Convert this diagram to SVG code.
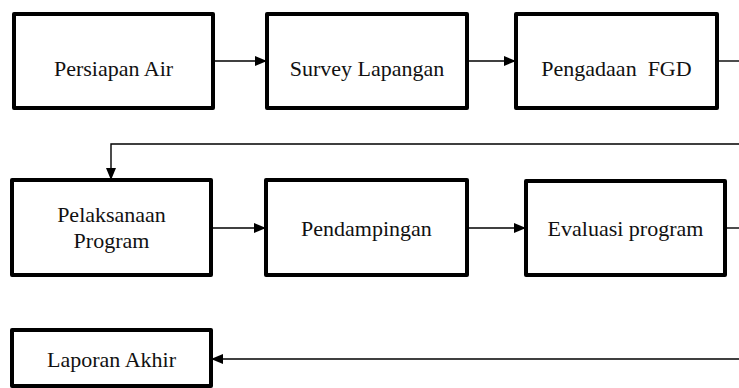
<svg xmlns="http://www.w3.org/2000/svg" width="739" height="388" viewBox="0 0 739 388">
<defs>
<marker id="ah" viewBox="0 0 12 10" refX="12" refY="5" markerWidth="12" markerHeight="10" markerUnits="userSpaceOnUse" orient="auto">
<path d="M0,0 L12,5 L0,10 Z" fill="#000"/>
</marker>
<style>
.box{fill:#fff;stroke:#000;stroke-width:4;stroke-linejoin:round}
.lbl{font-family:"Liberation Serif","Times New Roman",serif;font-size:22px;fill:#111;text-anchor:middle}
.c{fill:none;stroke:#000;stroke-width:1.4}
</style>
</defs>
<rect width="739" height="388" fill="#fff"/>
<g id="connectors">
<line class="c" x1="213" y1="61" x2="267" y2="61" marker-end="url(#ah)"/>
<line class="c" x1="467" y1="61" x2="516" y2="61" marker-end="url(#ah)"/>
<line class="c" x1="717" y1="61" x2="739" y2="61"/>
<polyline class="c" points="739,144 111,144 111,180" marker-end="url(#ah)"/>
<line class="c" x1="211" y1="228" x2="266" y2="228" marker-end="url(#ah)"/>
<line class="c" x1="467" y1="228" x2="526" y2="228" marker-end="url(#ah)"/>
<line class="c" x1="725" y1="228" x2="739" y2="228"/>
<line class="c" x1="739" y1="359" x2="211" y2="359" marker-end="url(#ah)"/>
</g>
<g id="n1"><rect class="box" x="14" y="14" width="199" height="94"/><text class="lbl" x="113.5" y="76">Persiapan Air</text></g>
<g id="n2"><rect class="box" x="267" y="14" width="200" height="94"/><text class="lbl" x="367" y="76">Survey Lapangan</text></g>
<g id="n3"><rect class="box" x="516" y="14" width="201" height="94"/><text class="lbl" x="616.5" y="76" xml:space="preserve">Pengadaan  FGD</text></g>
<g id="n4"><rect class="box" x="12" y="180" width="199" height="95"/><text class="lbl" x="111.5" y="222">Pelaksanaan</text><text class="lbl" x="111.5" y="248">Program</text></g>
<g id="n5"><rect class="box" x="266" y="180" width="201" height="95"/><text class="lbl" x="366.5" y="236">Pendampingan</text></g>
<g id="n6"><rect class="box" x="526" y="181" width="199" height="94"/><text class="lbl" x="625.5" y="236">Evaluasi program</text></g>
<g id="n7"><rect class="box" x="12" y="330" width="199" height="56"/><text class="lbl" x="111.5" y="367">Laporan Akhir</text></g>
</svg>
